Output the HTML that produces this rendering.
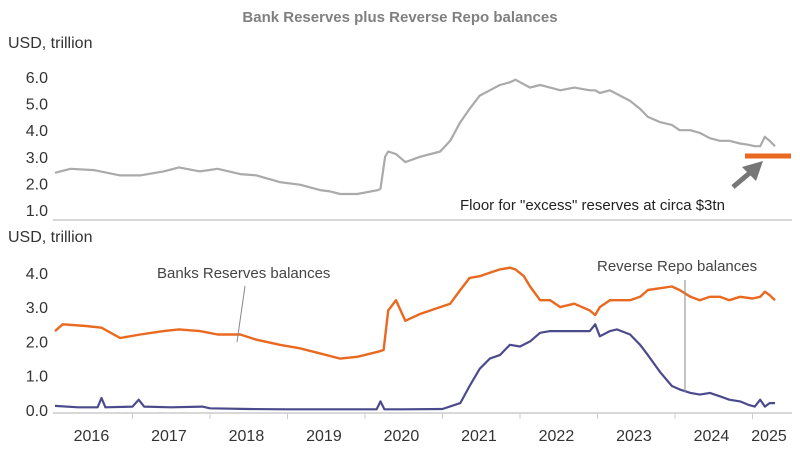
<!DOCTYPE html>
<html><head><meta charset="utf-8"><style>
body{margin:0;background:#fff;}
svg text{font-family:"Liberation Sans",sans-serif;}
</style></head><body>
<svg id="c" width="800" height="447">
<text x="400" y="22" text-anchor="middle" font-size="15" font-weight="bold" fill="#808080">Bank Reserves plus Reverse Repo balances</text>
<text x="8" y="48" font-size="16" fill="#333">USD, trillion</text>
<text x="8" y="242" font-size="16" fill="#333">USD, trillion</text>
<line x1="53" y1="220" x2="792" y2="220" stroke="#ccc" stroke-width="1.5"/>
<line x1="53" y1="413" x2="792" y2="413" stroke="#ccc" stroke-width="1.5"/>
<g id="ticks"></g>
<g id="series"></g>
<line x1="745" y1="156" x2="791" y2="156" stroke="#e8691f" stroke-width="5"/>
<line x1="733" y1="187" x2="752" y2="171" stroke="#777" stroke-width="5"/>
<polygon points="763,161 742,167 756,181" fill="#777"/>
<text x="460" y="210" font-size="15" fill="#222">Floor for "excess" reserves at circa $3tn</text>
<text x="157" y="278" font-size="15" fill="#444">Banks Reserves balances</text>
<line x1="245" y1="286" x2="237" y2="342" stroke="#888" stroke-width="1"/>
<text x="597" y="271" font-size="15" fill="#444">Reverse Repo balances</text>
<line x1="685" y1="280" x2="685" y2="392" stroke="#888" stroke-width="1"/>
</svg>
<script>
const years=["2016","2017","2018","2019","2020","2021","2022","2023","2024","2025"];
const topTicks=[1,2,3,4,5,6];
const botTicks=[0,1,2,3,4];
const totalT=[2016.0,2016.2,2016.5,2016.84,2017.1,2017.4,2017.6,2017.87,2018.1,2018.39,2018.6,2018.9,2019.16,2019.42,2019.55,2019.68,2019.9,2020.17,2020.2,2020.26,2020.3,2020.4,2020.52,2020.71,2020.97,2021.1,2021.23,2021.35,2021.48,2021.61,2021.74,2021.87,2021.94,2022.13,2022.26,2022.39,2022.52,2022.7,2022.9,2022.97,2023.03,2023.16,2023.29,2023.42,2023.55,2023.65,2023.81,2023.96,2024.06,2024.2,2024.32,2024.45,2024.58,2024.7,2024.84,2024.95,2025.03,2025.1,2025.16,2025.22,2025.29];
const totalV=[2.4,2.55,2.5,2.3,2.3,2.45,2.6,2.45,2.55,2.35,2.3,2.05,1.95,1.75,1.7,1.6,1.6,1.75,1.8,3.0,3.2,3.1,2.8,3.0,3.2,3.6,4.3,4.8,5.3,5.5,5.7,5.8,5.9,5.6,5.7,5.6,5.5,5.6,5.5,5.5,5.4,5.5,5.3,5.1,4.8,4.5,4.3,4.2,4.0,4.0,3.9,3.7,3.6,3.6,3.5,3.45,3.4,3.4,3.75,3.6,3.4];
const resT=[2016.0,2016.1,2016.4,2016.6,2016.84,2017.1,2017.4,2017.6,2017.87,2018.1,2018.39,2018.6,2018.9,2019.16,2019.42,2019.68,2019.9,2020.17,2020.24,2020.3,2020.4,2020.52,2020.71,2020.97,2021.1,2021.23,2021.35,2021.48,2021.61,2021.74,2021.87,2021.94,2022.05,2022.13,2022.26,2022.39,2022.52,2022.7,2022.9,2022.97,2023.03,2023.16,2023.29,2023.42,2023.55,2023.65,2023.81,2023.96,2024.06,2024.2,2024.32,2024.45,2024.58,2024.7,2024.84,2025.0,2025.1,2025.16,2025.22,2025.29];
const resV=[2.3,2.5,2.45,2.4,2.1,2.2,2.3,2.35,2.3,2.2,2.2,2.05,1.9,1.8,1.65,1.5,1.55,1.7,1.75,2.9,3.2,2.6,2.8,3.0,3.1,3.5,3.85,3.9,4.0,4.1,4.15,4.1,3.9,3.6,3.2,3.2,3.0,3.1,2.9,2.77,3.0,3.2,3.2,3.2,3.3,3.5,3.55,3.6,3.5,3.3,3.2,3.3,3.3,3.2,3.3,3.25,3.3,3.45,3.35,3.2];
const rrpT=[2016.0,2016.3,2016.55,2016.6,2016.65,2017.0,2017.08,2017.15,2017.5,2017.9,2018.0,2018.5,2019.0,2019.5,2020.0,2020.15,2020.2,2020.25,2020.5,2021.0,2021.23,2021.35,2021.48,2021.61,2021.74,2021.87,2022.0,2022.13,2022.26,2022.39,2022.52,2022.7,2022.9,2022.97,2023.03,2023.16,2023.25,2023.42,2023.55,2023.65,2023.81,2023.96,2024.06,2024.2,2024.32,2024.45,2024.58,2024.7,2024.84,2024.95,2025.03,2025.1,2025.16,2025.22,2025.29];
const rrpV=[0.12,0.08,0.08,0.35,0.08,0.1,0.3,0.1,0.08,0.1,0.05,0.03,0.02,0.02,0.02,0.02,0.25,0.02,0.02,0.03,0.2,0.7,1.2,1.5,1.6,1.9,1.85,2.0,2.25,2.3,2.3,2.3,2.3,2.5,2.15,2.3,2.35,2.2,1.9,1.6,1.1,0.7,0.6,0.5,0.45,0.5,0.4,0.3,0.25,0.15,0.1,0.3,0.1,0.2,0.2];
const NS='http://www.w3.org/2000/svg';
const xs=t=>55+(t-2016)*77.5;
const yTop=v=>210-(v-1)*26.6;
const yBot=v=>410-v*34.3;
const svg=document.getElementById('c');
const tg=document.getElementById('ticks');
const sg=document.getElementById('series');
function mk(tag,attrs){const e=document.createElementNS(NS,tag);for(const k in attrs)e.setAttribute(k,attrs[k]);return e;}
topTicks.forEach(v=>{const t=mk('text',{x:48,y:yTop(v)+6,'text-anchor':'end','font-size':16,fill:'#333'});t.textContent=v.toFixed(1);

tg.appendChild(t);});
botTicks.forEach(v=>{const t=mk('text',{x:48,y:yBot(v)+6,'text-anchor':'end','font-size':16,fill:'#333'});t.textContent=v.toFixed(1);

tg.appendChild(t);});
years.forEach((y,i)=>{const yr=+y;const cx=i===years.length-1?769:xs(yr+0.47);
const t=mk('text',{x:cx,y:441,'text-anchor':'middle','font-size':16,fill:'#333'});t.textContent=y;

tg.appendChild(t);
if(i>0){const l=mk('line',{x1:xs(yr),x2:xs(yr),y1:413,y2:419,stroke:'#ccc'});

tg.appendChild(l);}});
function line(T,V,fy,col,w){const d=T.map((t,i)=>(i?'L':'M')+xs(t).toFixed(1)+','+fy(V[i]).toFixed(1)).join('');return mk('path',{d:d,fill:'none',stroke:col,'stroke-width':w,'stroke-linejoin':'round'});}
const p1=line(totalT,totalV,yTop,'#aaaaaa',2.2);

sg.appendChild(p1);
const p2=line(resT,resV,yBot,'#e8691f',2.4);

sg.appendChild(p2);
const p3=line(rrpT,rrpV,yBot,'#4b4a8c',2.2);

sg.appendChild(p3);
</script>
</body></html>
